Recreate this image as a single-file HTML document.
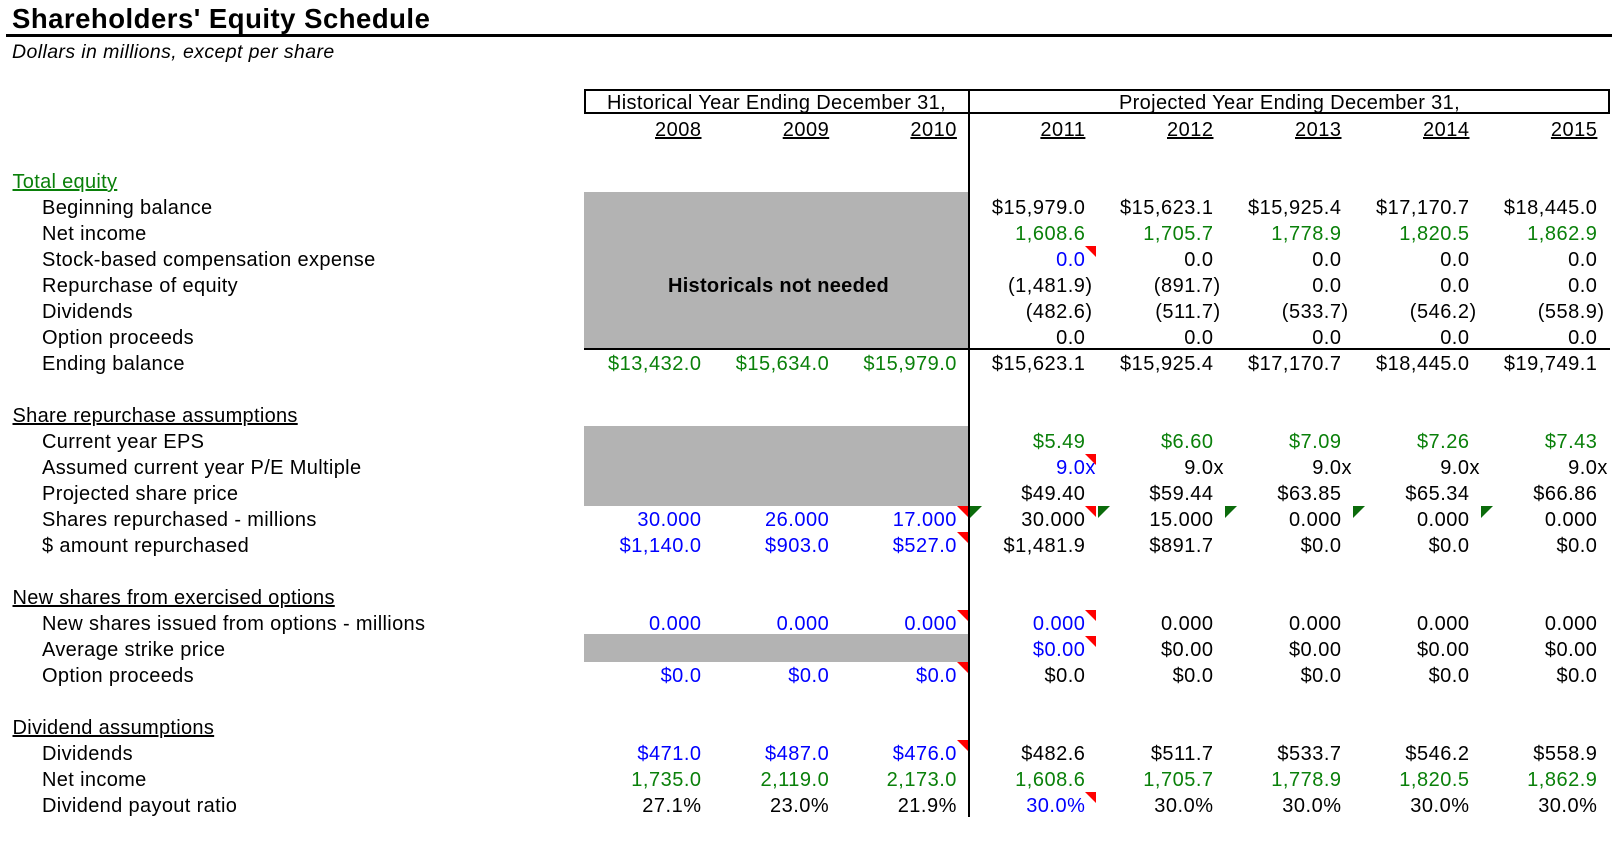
<!DOCTYPE html>
<html><head><meta charset="utf-8">
<style>
html,body{margin:0;padding:0;background:#fff}
body{width:1624px;height:846px;position:relative;overflow:hidden;font-family:"Liberation Sans",Arial,sans-serif;color:#000}
.t{position:absolute;left:12px;top:4px;font-size:27.5px;line-height:30px;font-weight:bold;letter-spacing:.5px;white-space:nowrap}
.st{position:absolute;left:12px;top:39px;font-size:19.5px;line-height:26px;font-style:italic;letter-spacing:.4px;white-space:nowrap}
.blk{position:absolute;background:#000}
.gray{position:absolute;background:#b3b3b3;left:584px;width:385px}
.row{position:absolute;left:0;width:1624px;height:26px;line-height:26px;font-size:20px;letter-spacing:.5px}
.row span{position:absolute;top:0;white-space:nowrap}
.l{left:42px;letter-spacing:.35px}
.s{left:12.5px;text-decoration:underline;letter-spacing:.3px}
.u{text-decoration:underline}
.c0{right:922.5px}.c1{right:794.8px}.c2{right:667.1px}.c3{right:538.6px}
.c4{right:410.5px}.c5{right:282.5px}.c6{right:154.5px}.c7{right:26.6px}
.b{color:#0000ff}.g{color:#0a800a}
.h{font-style:normal;display:inline-block;width:0}
.rt{position:absolute;width:0;height:0;border-top:11px solid #ff0000;border-left:11px solid transparent}
.gt{position:absolute;width:0;height:0;border-top:12px solid #0b6b0b;border-right:12px solid transparent}
.hdr{position:absolute;top:89.5px;height:26px;line-height:26px;font-size:20px;letter-spacing:.35px;text-align:center;white-space:nowrap}
</style></head>
<body>
<div class="t">Shareholders' Equity Schedule</div>
<div class="blk" style="left:6px;top:34px;width:1606px;height:3px"></div>
<div class="st">Dollars in millions, except per share</div>

<div class="gray" style="top:192px;height:157px"></div>
<div class="gray" style="top:426px;height:80px"></div>
<div class="gray" style="top:634px;height:28px"></div>

<div class="hdr" style="left:584px;width:385px">Historical Year Ending December 31,</div>
<div class="hdr" style="left:969px;width:641px">Projected Year Ending December 31,</div>
<div style="position:absolute;left:584px;top:89px;width:1026px;height:25px;border:2px solid #000;box-sizing:border-box"></div>

<div class="blk" style="left:968px;top:89px;width:2px;height:728px"></div>
<div class="blk" style="left:584px;top:348px;width:1026px;height:2px"></div>

<div class="row" style="top:117px">
<span class="c0 u">2008</span><span class="c1 u">2009</span><span class="c2 u">2010</span><span class="c3 u">2011</span><span class="c4 u">2012</span><span class="c5 u">2013</span><span class="c6 u">2014</span><span class="c7 u">2015</span>
</div>

<div class="row" style="top:169px"><span class="s g">Total equity</span></div>
<div class="row" style="top:195px"><span class="l">Beginning balance</span>
<span class="c3">$15,979.0</span><span class="c4">$15,623.1</span><span class="c5">$15,925.4</span><span class="c6">$17,170.7</span><span class="c7">$18,445.0</span></div>
<div class="row" style="top:221px"><span class="l">Net income</span>
<span class="c3 g">1,608.6</span><span class="c4 g">1,705.7</span><span class="c5 g">1,778.9</span><span class="c6 g">1,820.5</span><span class="c7 g">1,862.9</span></div>
<div class="row" style="top:247px"><span class="l">Stock-based compensation expense</span>
<span class="c3 b">0.0</span><span class="c4">0.0</span><span class="c5">0.0</span><span class="c6">0.0</span><span class="c7">0.0</span></div>
<div class="row" style="top:273px"><span class="l">Repurchase of equity</span>
<span style="left:586px;width:385px;text-align:center;font-weight:bold;letter-spacing:.3px">Historicals not needed</span>
<span class="c3">(1,481.9<i class="h">)</i></span><span class="c4">(891.7<i class="h">)</i></span><span class="c5">0.0</span><span class="c6">0.0</span><span class="c7">0.0</span></div>
<div class="row" style="top:299px"><span class="l">Dividends</span>
<span class="c3">(482.6<i class="h">)</i></span><span class="c4">(511.7<i class="h">)</i></span><span class="c5">(533.7<i class="h">)</i></span><span class="c6">(546.2<i class="h">)</i></span><span class="c7">(558.9<i class="h">)</i></span></div>
<div class="row" style="top:325px"><span class="l">Option proceeds</span>
<span class="c3">0.0</span><span class="c4">0.0</span><span class="c5">0.0</span><span class="c6">0.0</span><span class="c7">0.0</span></div>
<div class="row" style="top:351px"><span class="l">Ending balance</span>
<span class="c0 g">$13,432.0</span><span class="c1 g">$15,634.0</span><span class="c2 g">$15,979.0</span>
<span class="c3">$15,623.1</span><span class="c4">$15,925.4</span><span class="c5">$17,170.7</span><span class="c6">$18,445.0</span><span class="c7">$19,749.1</span></div>

<div class="row" style="top:403px"><span class="s">Share repurchase assumptions</span></div>
<div class="row" style="top:429px"><span class="l">Current year EPS</span>
<span class="c3 g">$5.49</span><span class="c4 g">$6.60</span><span class="c5 g">$7.09</span><span class="c6 g">$7.26</span><span class="c7 g">$7.43</span></div>
<div class="row" style="top:455px"><span class="l">Assumed current year P/E Multiple</span>
<span class="c3 b">9.0<i class="h">x</i></span><span class="c4">9.0<i class="h">x</i></span><span class="c5">9.0<i class="h">x</i></span><span class="c6">9.0<i class="h">x</i></span><span class="c7">9.0<i class="h">x</i></span></div>
<div class="row" style="top:481px"><span class="l">Projected share price</span>
<span class="c3">$49.40</span><span class="c4">$59.44</span><span class="c5">$63.85</span><span class="c6">$65.34</span><span class="c7">$66.86</span></div>
<div class="row" style="top:507px"><span class="l">Shares repurchased - millions</span>
<span class="c0 b">30.000</span><span class="c1 b">26.000</span><span class="c2 b">17.000</span>
<span class="c3">30.000</span><span class="c4">15.000</span><span class="c5">0.000</span><span class="c6">0.000</span><span class="c7">0.000</span></div>
<div class="row" style="top:533px"><span class="l">$ amount repurchased</span>
<span class="c0 b">$1,140.0</span><span class="c1 b">$903.0</span><span class="c2 b">$527.0</span>
<span class="c3">$1,481.9</span><span class="c4">$891.7</span><span class="c5">$0.0</span><span class="c6">$0.0</span><span class="c7">$0.0</span></div>

<div class="row" style="top:585px"><span class="s">New shares from exercised options</span></div>
<div class="row" style="top:611px"><span class="l">New shares issued from options - millions</span>
<span class="c0 b">0.000</span><span class="c1 b">0.000</span><span class="c2 b">0.000</span>
<span class="c3 b">0.000</span><span class="c4">0.000</span><span class="c5">0.000</span><span class="c6">0.000</span><span class="c7">0.000</span></div>
<div class="row" style="top:637px"><span class="l">Average strike price</span>
<span class="c3 b">$0.00</span><span class="c4">$0.00</span><span class="c5">$0.00</span><span class="c6">$0.00</span><span class="c7">$0.00</span></div>
<div class="row" style="top:663px"><span class="l">Option proceeds</span>
<span class="c0 b">$0.0</span><span class="c1 b">$0.0</span><span class="c2 b">$0.0</span>
<span class="c3">$0.0</span><span class="c4">$0.0</span><span class="c5">$0.0</span><span class="c6">$0.0</span><span class="c7">$0.0</span></div>

<div class="row" style="top:715px"><span class="s">Dividend assumptions</span></div>
<div class="row" style="top:741px"><span class="l">Dividends</span>
<span class="c0 b">$471.0</span><span class="c1 b">$487.0</span><span class="c2 b">$476.0</span>
<span class="c3">$482.6</span><span class="c4">$511.7</span><span class="c5">$533.7</span><span class="c6">$546.2</span><span class="c7">$558.9</span></div>
<div class="row" style="top:767px"><span class="l">Net income</span>
<span class="c0 g">1,735.0</span><span class="c1 g">2,119.0</span><span class="c2 g">2,173.0</span>
<span class="c3 g">1,608.6</span><span class="c4 g">1,705.7</span><span class="c5 g">1,778.9</span><span class="c6 g">1,820.5</span><span class="c7 g">1,862.9</span></div>
<div class="row" style="top:793px"><span class="l">Dividend payout ratio</span>
<span class="c0">27.1%</span><span class="c1">23.0%</span><span class="c2">21.9%</span>
<span class="c3 b">30.0%</span><span class="c4">30.0%</span><span class="c5">30.0%</span><span class="c6">30.0%</span><span class="c7">30.0%</span></div>

<div class="rt" style="left:1085px;top:246px"></div>
<div class="rt" style="left:1085px;top:454px"></div>
<div class="rt" style="left:957px;top:506px"></div>
<div class="rt" style="left:1085px;top:506px"></div>
<div class="rt" style="left:957px;top:532px"></div>
<div class="rt" style="left:957px;top:610px"></div>
<div class="rt" style="left:1085px;top:610px"></div>
<div class="rt" style="left:1085px;top:636px"></div>
<div class="rt" style="left:957px;top:662px"></div>
<div class="rt" style="left:957px;top:740px"></div>
<div class="rt" style="left:1085px;top:792px"></div>

<div class="gt" style="left:970px;top:506px"></div>
<div class="gt" style="left:1098px;top:506px"></div>
<div class="gt" style="left:1225px;top:506px"></div>
<div class="gt" style="left:1353px;top:506px"></div>
<div class="gt" style="left:1481px;top:506px"></div>
</body></html>
